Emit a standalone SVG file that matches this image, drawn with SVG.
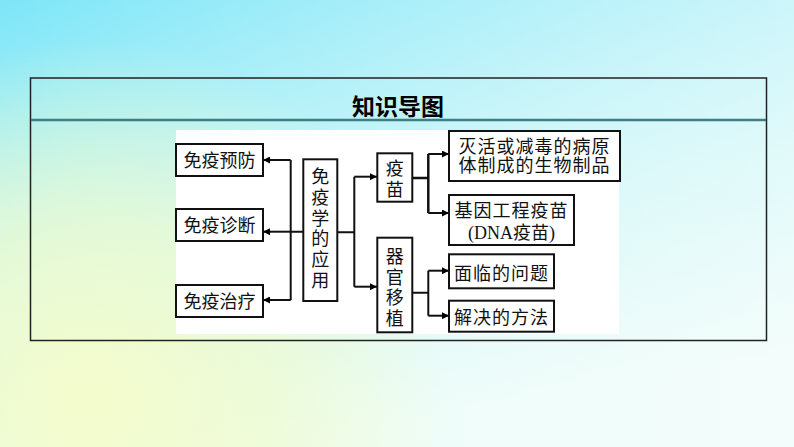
<svg xmlns="http://www.w3.org/2000/svg" width="794" height="447" viewBox="0 0 794 447">
<defs>
<linearGradient id="bg" x1="0" y1="0" x2="0.3" y2="1">
<stop offset="0" stop-color="#7de6f8"/>
<stop offset="0.55" stop-color="#c6f5f6"/>
<stop offset="1" stop-color="#eafcf8"/>
</linearGradient>
<linearGradient id="bgr" x1="0" y1="0" x2="1" y2="0">
<stop offset="0" stop-color="#ffffff" stop-opacity="0"/>
<stop offset="1" stop-color="#ffffff" stop-opacity="0.45"/>
</linearGradient>
<radialGradient id="yl" cx="90" cy="400" r="360" gradientUnits="userSpaceOnUse">
<stop offset="0" stop-color="#f4fccc" stop-opacity="1"/>
<stop offset="0.5" stop-color="#f0fbcc" stop-opacity="0.7"/>
<stop offset="1" stop-color="#f0fbcc" stop-opacity="0"/>
</radialGradient>
<marker id="ah" viewBox="0 0 10 10" refX="10" refY="5" markerWidth="7" markerHeight="7" markerUnits="userSpaceOnUse" orient="auto">
<path d="M0,0 L10,5 L0,10 z" fill="#000"/>
</marker>
<style>
.box{fill:#fff;stroke:#111;stroke-width:2}
.t{font-family:"Liberation Serif","Noto Sans CJK SC",serif;font-size:18px;fill:#111;text-anchor:middle}
.c{fill:none;stroke:#111;stroke-width:2}
</style>
</defs>
<rect x="0" y="0" width="794" height="447" fill="url(#bg)"/>
<rect x="0" y="0" width="794" height="447" fill="url(#bgr)"/>
<rect x="0" y="0" width="794" height="447" fill="url(#yl)"/>
<g id="frame">
<rect x="30.5" y="78" width="736" height="262.5" fill="none" stroke="#222" stroke-width="1.5"/>
<line x1="31" y1="120" x2="766" y2="120" stroke="#3d7f85" stroke-width="2.5"/>
<text x="398" y="115" font-family="'Noto Sans CJK SC',sans-serif" font-weight="bold" font-size="23" text-anchor="middle" fill="#000">知识导图</text>
</g>
<rect x="176" y="130" width="443" height="204" fill="#fff"/>
<g id="connectors">
<path class="c" d="M303,231.7 H290.7 M290.7,160 V300"/>
<line class="c" x1="290.7" y1="160" x2="263" y2="160" marker-end="url(#ah)"/>
<line class="c" x1="290.7" y1="231.7" x2="263" y2="231.7" marker-end="url(#ah)"/>
<line class="c" x1="290.7" y1="300" x2="263" y2="300" marker-end="url(#ah)"/>
<path class="c" d="M337,232.3 H354.3 M354.3,176.7 V286.7"/>
<line class="c" x1="354.3" y1="176.7" x2="377" y2="176.7" marker-end="url(#ah)"/>
<line class="c" x1="354.3" y1="286.7" x2="377" y2="286.7" marker-end="url(#ah)"/>
<path class="c" d="M413,178 H428.3 M428.3,154 V213" style="stroke-width:2.5"/>
<line class="c" x1="428.3" y1="154" x2="449" y2="154" marker-end="url(#ah)"/>
<line class="c" x1="428.3" y1="213" x2="449" y2="213" marker-end="url(#ah)"/>
<path class="c" d="M413,292.7 H428.3 M428.3,270.7 V315.7"/>
<line class="c" x1="428.3" y1="270.7" x2="449" y2="270.7" marker-end="url(#ah)"/>
<line class="c" x1="428.3" y1="315.7" x2="449" y2="315.7" marker-end="url(#ah)"/>
</g>
<g id="n-yufang">
<rect class="box" x="176" y="144" width="87" height="32"/>
<text class="t" x="219.5" y="166.5">免疫预防</text>
</g>
<g id="n-zhenduan">
<rect class="box" x="176" y="209" width="87" height="32"/>
<text class="t" x="219.5" y="231.5">免疫诊断</text>
</g>
<g id="n-zhiliao">
<rect class="box" x="176" y="285" width="87" height="32"/>
<text class="t" x="219.5" y="307.5">免疫治疗</text>
</g>
<g id="n-center">
<rect class="box" x="303.3" y="159.3" width="34" height="141.7"/>
<text class="t" x="320.3" y="183.2">免</text>
<text class="t" x="320.3" y="203.9">疫</text>
<text class="t" x="320.3" y="224.5">学</text>
<text class="t" x="320.3" y="245.2">的</text>
<text class="t" x="320.3" y="265.9">应</text>
<text class="t" x="320.3" y="286.5">用</text>
</g>
<g id="n-yimiao">
<rect class="box" x="377.3" y="153.3" width="35" height="48.4"/>
<text class="t" x="394.8" y="174.8">疫</text>
<text class="t" x="394.8" y="195.5">苗</text>
</g>
<g id="n-qiguan">
<rect class="box" x="377.3" y="237.7" width="35" height="94.6"/>
<text class="t" x="394.8" y="263.3">器</text>
<text class="t" x="394.8" y="283.8">官</text>
<text class="t" x="394.8" y="304.3">移</text>
<text class="t" x="394.8" y="324.8">植</text>
</g>
<g id="n-miehuo">
<rect class="box" x="449" y="131" width="171" height="50"/>
<text class="t" x="534.5" y="153.2" letter-spacing="1">灭活或减毒的病原</text>
<text class="t" x="534.5" y="171.5" letter-spacing="1">体制成的生物制品</text>
</g>
<g id="n-jiyin">
<rect class="box" x="449" y="195" width="125" height="50"/>
<text class="t" x="511.5" y="216.5" letter-spacing="1">基因工程疫苗</text>
<text class="t" x="511.5" y="238.8">(DNA疫苗)</text>
</g>
<g id="n-mianlin">
<rect class="box" x="449" y="254.3" width="105" height="34"/>
<text class="t" x="501.5" y="279.8" letter-spacing="1">面临的问题</text>
</g>
<g id="n-jiejue">
<rect class="box" x="449" y="300.7" width="105" height="31"/>
<text class="t" x="501.5" y="324.2" letter-spacing="1">解决的方法</text>
</g>
</svg>
